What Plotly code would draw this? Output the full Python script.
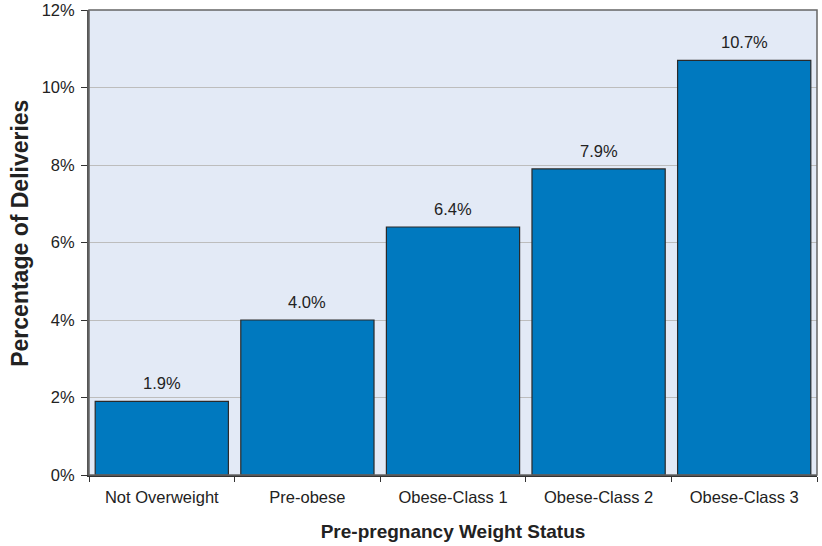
import plotly.graph_objects as go

categories = ["Not Overweight", "Pre-obese", "Obese-Class 1", "Obese-Class 2", "Obese-Class 3"]
values = [1.9, 4.0, 6.4, 7.9, 10.7]
labels = ["1.9%", "4.0%", "6.4%", "7.9%", "10.7%"]
y_ticks = [0, 2, 4, 6, 8, 10, 12]

fig = go.Figure(go.Bar(
    x=categories, y=values,
    marker=dict(color="#0079BF", line=dict(color="#2a2a2a", width=1.2)),
))

for c, v, t in zip(categories, values, labels):
    fig.add_annotation(x=c, y=v, text=t, showarrow=False, yanchor="bottom",
                       yshift=7, font=dict(size=16.5, color="#222"))

fig.add_annotation(xref="paper", yref="paper", x=-0.094, y=0.52, xanchor="center",
                   yanchor="middle", textangle=-90, showarrow=False,
                   text="<b>Percentage of Deliveries</b>", font=dict(size=23, color="#222"))

fig.update_layout(
    width=822, height=546,
    margin=dict(l=89, r=5, t=10, b=71),
    paper_bgcolor="white", plot_bgcolor="#E3EAF6",
    font=dict(family="Liberation Sans, Arial, sans-serif", size=16.5, color="#222"),
    bargap=0.085, showlegend=False,
)
fig.update_xaxes(
    title=dict(text="<b>Pre-pregnancy Weight Status</b>", font=dict(size=19), standoff=20),
    showline=True, linecolor="#333", linewidth=2, mirror=False,
    ticks="outside", tickson="boundaries", ticklen=5, tickcolor="#333",
    ticklabelstandoff=6, automargin=False,
    tickfont=dict(size=16.5), showgrid=False,
)
fig.update_yaxes(
    range=[0, 12], tickvals=y_ticks, ticktext=[f"{v}%" for v in y_ticks],
    showline=True, linecolor="#555", linewidth=2, automargin=False,
    ticks="outside", ticklen=6, tickcolor="#333", ticklabelstandoff=3,
    showgrid=True, gridcolor="#BDBDBD", gridwidth=1, zeroline=False,
    tickfont=dict(size=16.5),
)
# frame on top and right
fig.add_shape(type="rect", xref="paper", yref="paper", x0=0, y0=0, x1=1, y1=1,
              line=dict(color="#666", width=1.5), layer="above")

fig.write_html("out.html")
